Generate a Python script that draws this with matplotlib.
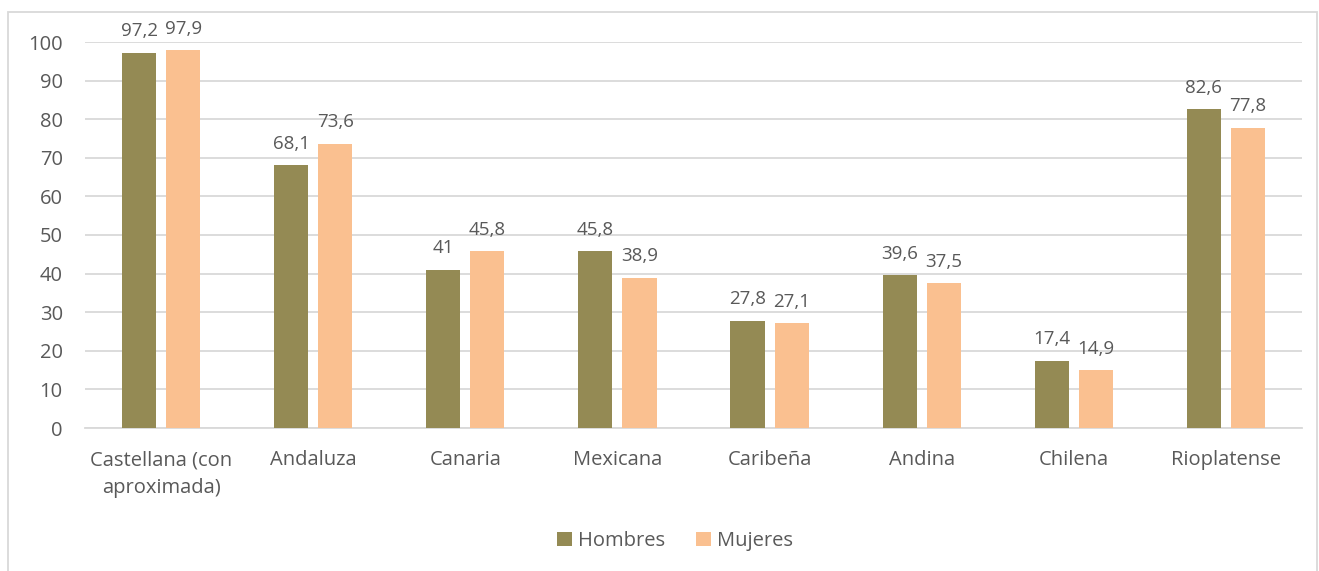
import matplotlib.pyplot as plt
from matplotlib.patches import Rectangle
import numpy as np

categorias = ['Castellana (con\naproximada)', 'Andaluza', 'Canaria', 'Mexicana',
              'Caribeña', 'Andina', 'Chilena', 'Rioplatense']
hombres = [97.2, 68.1, 41, 45.8, 27.8, 39.6, 17.4, 82.6]
mujeres = [97.9, 73.6, 45.8, 38.9, 27.1, 37.5, 14.9, 77.8]

color_h = '#948A54'
color_m = '#FAC090'
gris_txt = '#595959'
gris_linea = '#D9D9D9'

plt.rcParams['font.family'] = ['Open Sans', 'DejaVu Sans']

fig = plt.figure(figsize=(13.19, 5.71), dpi=100)
ax = fig.add_axes([85 / 1319, 143 / 571, 1217 / 1319, 386 / 571])

x = np.arange(len(categorias))
ancho = 0.224
desp = 0.145
b1 = ax.bar(x - desp, hombres, ancho, color=color_h, label='Hombres', zorder=3)
b2 = ax.bar(x + desp, mujeres, ancho, color=color_m, label='Mujeres', zorder=3)

def etiquetas(barras, valores):
    for b, v in zip(barras, valores):
        txt = f'{v:g}'.replace('.', ',')
        ax.annotate(txt, (b.get_x() + b.get_width() / 2, v), xytext=(0, 9),
                    textcoords='offset points', ha='center', va='bottom',
                    fontsize=13.5, color=gris_txt)

etiquetas(b1, hombres)
etiquetas(b2, mujeres)

ax.set_xlim(-0.5, len(categorias) - 0.5)
ax.set_ylim(0, 100)
ax.set_yticks(range(0, 101, 10))
ax.set_xticks(x)
ax.set_xticklabels(categorias, linespacing=1.5)
ax.tick_params(axis='both', length=0, labelsize=14.5, labelcolor=gris_txt)
ax.tick_params(axis='x', pad=16)
ax.tick_params(axis='y', pad=16)
ax.grid(axis='y', color=gris_linea, linewidth=1.3, zorder=0)
for s in ['top', 'right', 'left']:
    ax.spines[s].set_visible(False)
ax.spines['bottom'].set_color(gris_linea)
ax.spines['bottom'].set_linewidth(1.3)

leg = fig.legend(loc='center', bbox_to_anchor=(675 / 1319, 1 - 541 / 571), ncol=2,
                 frameon=False, fontsize=14.5, handlelength=0.75, handleheight=0.75,
                 handletextpad=0.3, columnspacing=1.5)
for t in leg.get_texts():
    t.set_color(gris_txt)

# marco del gráfico
fig.patches.append(Rectangle((8 / 1319, -0.05), 1309 / 1319, 1 - 12 / 571 + 0.05,
                             transform=fig.transFigure, fill=False,
                             edgecolor=gris_linea, linewidth=1.3))

fig.savefig('out.png', dpi=100, facecolor='white')
